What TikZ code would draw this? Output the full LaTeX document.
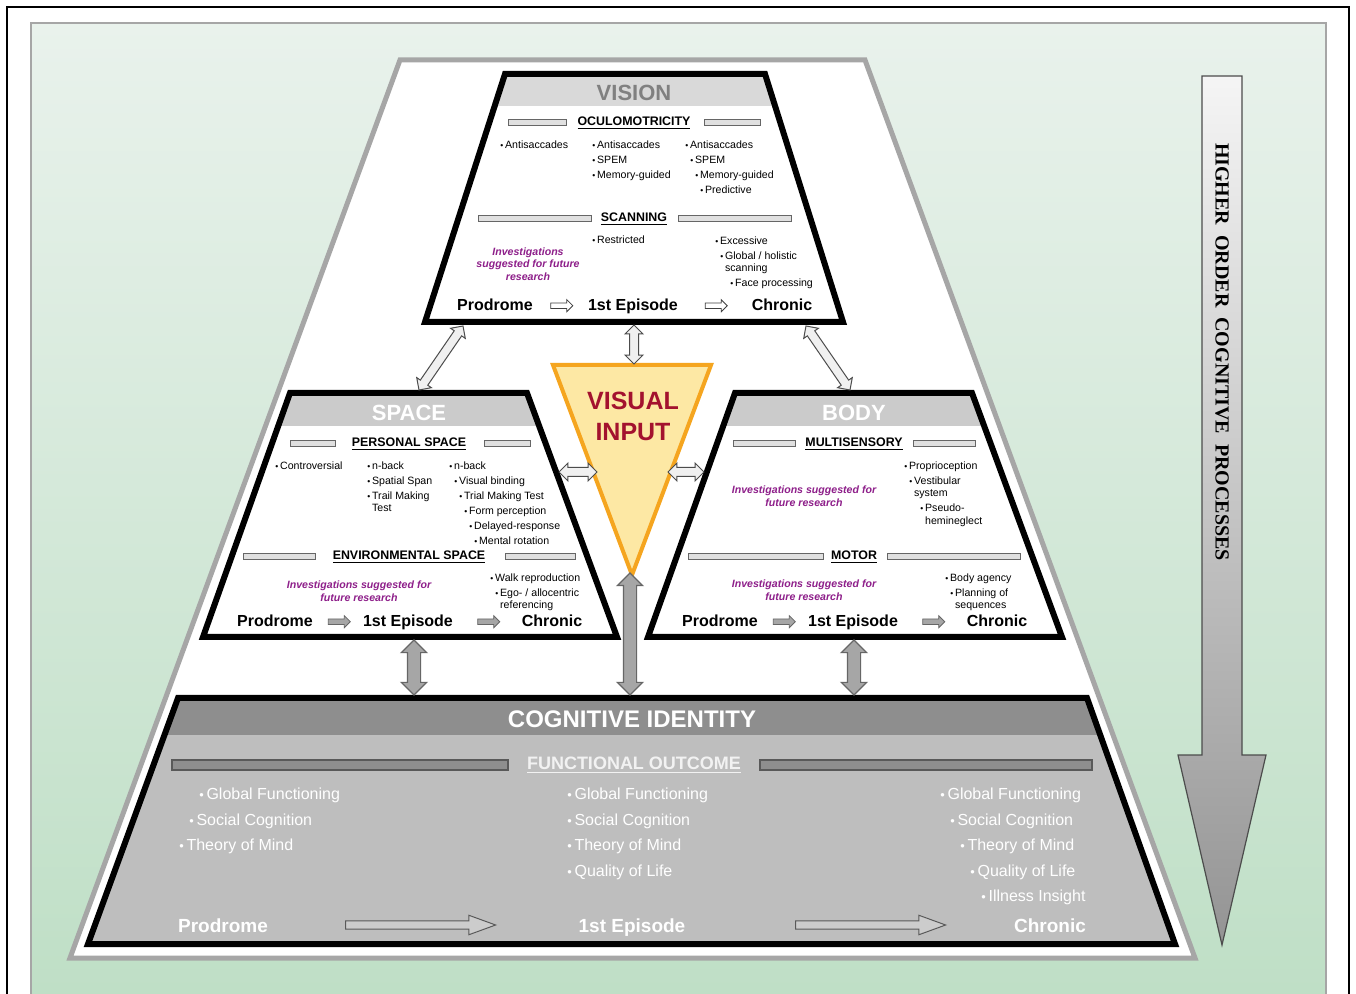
\documentclass[tikz,border=0pt]{standalone}
\usepackage{fontspec}
\usepackage{graphicx}
\setmainfont{Liberation Sans}
\newfontfamily\serifbold{Liberation Serif}
\usetikzlibrary{calc,shapes.arrows}

\definecolor{panetop}{HTML}{E9F2EC}
\definecolor{panebottom}{HTML}{BFDFC6}
\definecolor{rimgray}{HTML}{A6A6A6}
\definecolor{headlight}{HTML}{D9D9D9}
\definecolor{headmid}{HTML}{CBCBCB}
\definecolor{headdark}{HTML}{8E8E8E}
\definecolor{outcomegray}{HTML}{BEBEBE}
\definecolor{futurepurple}{HTML}{8E1F8A}
\definecolor{inputfill}{HTML}{FDE8A4}
\definecolor{inputrim}{HTML}{F5A51F}
\definecolor{inputtext}{HTML}{A3122E}

\newcommand\bu{\scalebox{.8}{\textbullet}\,}
% block arrow with two heads, laid between two coordinates
\newcommand\linkarrow[3]{%
	\path let \p1=($(#3)-(#2)$), \n1={atan2(\y1,\x1)}, \n2={veclen(\x1,\y1)} in
		node[#1, rotate=\n1, minimum height=\n2] at ($(#2)!.5!(#3)$) {};}

\begin{document}
\begin{tikzpicture}[x=0.5pt, y=-0.5pt,
		boxrim/.style={draw=black, line width=3pt, line join=miter},
		barbox/.style={draw=black!60, fill=black!12, line width=0.5pt},
		darkbar/.style={draw=black!65, fill=headdark, line width=0.6pt},
		headtitle/.style={font=\fontsize{11}{13}\selectfont\bfseries},
		sectitle/.style={font=\fontsize{6.2}{7}\selectfont\bfseries, inner sep=0pt},
		itemlist/.style={font=\fontsize{5.3}{6.3}\selectfont, align=left, anchor=north west, inner sep=0pt},
		futurenote/.style={font=\fontsize{5.3}{6.3}\selectfont\bfseries\itshape, text=futurepurple, align=center, inner sep=0pt},
		stagelabel/.style={font=\fontsize{8}{9}\selectfont\bfseries, inner sep=0pt, anchor=base},
		cogstage/.style={font=\fontsize{9.5}{11}\selectfont\bfseries, text=white, inner sep=0pt, anchor=base},
		outcomelist/.style={font=\fontsize{8}{12.75}\selectfont, text=white, align=left, anchor=north west, inner sep=0pt},
		lightlink/.style={double arrow, double arrow head extend=2.2pt, inner xsep=0pt, inner ysep=2pt, draw=black!70, fill=black!6, line width=0.5pt},
		greylink/.style={double arrow, double arrow head extend=3pt, inner xsep=0pt, inner ysep=3pt, draw=black!60, fill=black!35, line width=0.6pt},
		steparrow/.style={single arrow, single arrow head extend=1.6pt, inner xsep=0pt, inner ysep=1.2pt, minimum height=11pt, line width=0.4pt},
		longstep/.style={single arrow, single arrow head extend=2.8pt, single arrow tip angle=40, inner xsep=0pt, inner ysep=1.8pt, minimum height=75pt, draw=black!65, fill=black!20, line width=0.5pt}]
	\useasboundingbox (0,0) rectangle (1356,994);
	\fill[white] (0,0) rectangle (1356,994);
	\draw[black, line width=0.6pt] (7,994) -- (7,7) -- (1349,7) -- (1349,994);
	\shade[top color=panetop, bottom color=panebottom] (31,23) rectangle (1326,994);
	\draw[rimgray, line width=1pt] (31,994) -- (31,23) -- (1326,23) -- (1326,994);
	\draw[rimgray, fill=white, line width=2.5pt, line join=miter] (400,60) -- (865,60) -- (1195,958) -- (70,958) -- cycle;

	% vision
	\fill[white] (505,74) -- (765,74) -- (843,322) -- (425,322) -- cycle;
	\begin{scope}
		\clip (505,74) -- (765,74) -- (843,322) -- (425,322) -- cycle;
		\fill[headlight] (400,70) rectangle (870,106);
	\end{scope}
	\draw[boxrim] (505,74) -- (765,74) -- (843,322) -- (425,322) -- cycle;
	\node[headtitle, text=black!50] (vision) at (634,93) {VISION};
	\node[sectitle] (oculo) at (634,123) {\underline{OCULOMOTRICITY}};
	\draw[barbox] (508,120) rectangle (566,126);
	\draw[barbox] (704,120) rectangle (760,126);
	\node[itemlist] (oculo-pro) at (500,140) {\bu Antisaccades};
	\node[itemlist] (oculo-epi) at (592,140) {\bu Antisaccades\\[1.2pt]\bu SPEM\\[1.2pt]\bu Memory-guided};
	\node[itemlist] (oculo-chr) at (685,140) {\bu Antisaccades\\[1.2pt]\hspace*{2.5pt}\bu SPEM\\[1.2pt]\hspace*{5pt}\bu Memory-guided\\[1.2pt]\hspace*{7.5pt}\bu Predictive};
	\node[sectitle] (scan) at (634,219) {\underline{SCANNING}};
	\draw[barbox] (478,216) rectangle (591,222);
	\draw[barbox] (678,216) rectangle (791,222);
	\node[futurenote] (scan-pro) at (528,264) {Investigations\\suggested for future\\research};
	\node[itemlist] (scan-epi) at (592,235) {\bu Restricted};
	\node[itemlist] (scan-chr) at (715,236) {\bu Excessive\\[1.2pt]\hspace*{2.5pt}\bu Global / holistic\\\hspace*{2.5pt}\phantom{\bu}scanning\\[1.2pt]\hspace*{7.5pt}\bu Face processing};
	\node[stagelabel] (vis-pro) at (495,311) {Prodrome};
	\node[stagelabel] (vis-epi) at (633,311) {1st Episode};
	\node[stagelabel] (vis-chr) at (782,311) {Chronic};
	\node[steparrow, draw=black!75, fill=white] at ($(vis-pro.mid east)!.5!(vis-epi.mid west)$) {};
	\node[steparrow, draw=black!75, fill=white] at ($(vis-epi.mid east)!.5!(vis-chr.mid west)$) {};

	% space
	\fill[white] (290,393) -- (527,393) -- (617,637) -- (203,637) -- cycle;
	\begin{scope}
		\clip (290,393) -- (527,393) -- (617,637) -- (203,637) -- cycle;
		\fill[headmid] (200,390) rectangle (620,426);
	\end{scope}
	\draw[boxrim] (290,393) -- (527,393) -- (617,637) -- (203,637) -- cycle;
	\node[headtitle, text=white] (space) at (409,413) {SPACE};
	\node[sectitle] (personal) at (409,444) {\underline{PERSONAL SPACE}};
	\draw[barbox] (290,441) rectangle (335,447);
	\draw[barbox] (484,441) rectangle (530,447);
	\node[itemlist] (personal-pro) at (275,461) {\bu Controversial};
	\node[itemlist] (personal-epi) at (367,461) {\bu n-back\\[1.2pt]\bu Spatial Span\\[1.2pt]\bu Trail Making\\\phantom{\bu}Test};
	\node[itemlist] (personal-chr) at (449,461) {\bu n-back\\[1.2pt]\hspace*{2.5pt}\bu Visual binding\\[1.2pt]\hspace*{5pt}\bu Trial Making Test\\[1.2pt]\hspace*{7.5pt}\bu Form perception\\[1.2pt]\hspace*{10pt}\bu Delayed-response\\[1.2pt]\hspace*{12.5pt}\bu Mental rotation};
	\node[sectitle] (environ) at (409,557) {\underline{ENVIRONMENTAL SPACE}};
	\draw[barbox] (243,554) rectangle (315,560);
	\draw[barbox] (505,554) rectangle (575,560);
	\node[futurenote] (environ-pro) at (359,591) {Investigations suggested for\\future research};
	\node[itemlist] (environ-chr) at (490,573) {\bu Walk reproduction\\[1.2pt]\hspace*{2.5pt}\bu Ego- / allocentric\\\hspace*{2.5pt}\phantom{\bu}referencing};
	\node[stagelabel] (spc-pro) at (275,627) {Prodrome};
	\node[stagelabel] (spc-epi) at (408,627) {1st Episode};
	\node[stagelabel] (spc-chr) at (552,627) {Chronic};
	\node[steparrow, draw=black!60, fill=black!35] at ($(spc-pro.mid east)!.5!(spc-epi.mid west)$) {};
	\node[steparrow, draw=black!60, fill=black!35] at ($(spc-epi.mid east)!.5!(spc-chr.mid west)$) {};

	% body
	\fill[white] (735,393) -- (972,393) -- (1062,637) -- (648,637) -- cycle;
	\begin{scope}
		\clip (735,393) -- (972,393) -- (1062,637) -- (648,637) -- cycle;
		\fill[headmid] (640,390) rectangle (1070,426);
	\end{scope}
	\draw[boxrim] (735,393) -- (972,393) -- (1062,637) -- (648,637) -- cycle;
	\node[headtitle, text=white] (body) at (854,413) {BODY};
	\node[sectitle] (multi) at (854,444) {\underline{MULTISENSORY}};
	\draw[barbox] (733,441) rectangle (795,447);
	\draw[barbox] (913,441) rectangle (975,447);
	\node[futurenote] (multi-pro) at (804,496) {Investigations suggested for\\future research};
	\node[itemlist] (multi-chr) at (904,461) {\bu Proprioception\\[1.2pt]\hspace*{2.5pt}\bu Vestibular\\\hspace*{2.5pt}\phantom{\bu}system\\[1.2pt]\hspace*{8pt}\bu Pseudo-\\\hspace*{8pt}\phantom{\bu}hemineglect};
	\node[sectitle] (motor) at (854,557) {\underline{MOTOR}};
	\draw[barbox] (688,554) rectangle (823,560);
	\draw[barbox] (887,554) rectangle (1020,560);
	\node[futurenote] (motor-pro) at (804,590) {Investigations suggested for\\future research};
	\node[itemlist] (motor-chr) at (945,573) {\bu Body agency\\[1.2pt]\hspace*{2.5pt}\bu Planning of\\\hspace*{2.5pt}\phantom{\bu}sequences};
	\node[stagelabel] (bod-pro) at (720,627) {Prodrome};
	\node[stagelabel] (bod-epi) at (853,627) {1st Episode};
	\node[stagelabel] (bod-chr) at (997,627) {Chronic};
	\node[steparrow, draw=black!60, fill=black!35] at ($(bod-pro.mid east)!.5!(bod-epi.mid west)$) {};
	\node[steparrow, draw=black!60, fill=black!35] at ($(bod-epi.mid east)!.5!(bod-chr.mid west)$) {};

	% visual input
	\draw[fill=inputfill, draw=inputrim, line width=2pt, line join=miter] (553,365) -- (711,365) -- (632,575) -- cycle;
	\node[font=\fontsize{12.5}{15.5}\selectfont\bfseries, text=inputtext, align=center] (input) at (633,416) {VISUAL\\INPUT};

	% cognitive identity
	\fill[outcomegray] (178,698) -- (1087,698) -- (1175,944) -- (88,944) -- cycle;
	\begin{scope}
		\clip (178,698) -- (1087,698) -- (1175,944) -- (88,944) -- cycle;
		\fill[headdark] (80,690) rectangle (1180,736);
		\draw[white!75!black, line width=0.8pt] (80,736) -- (1180,736);
	\end{scope}
	\draw[boxrim] (178,698) -- (1087,698) -- (1175,944) -- (88,944) -- cycle;
	\node[font=\fontsize{12}{14}\selectfont\bfseries, text=white] (identity) at (632,719) {COGNITIVE IDENTITY};
	\node[font=\fontsize{9}{10}\selectfont\bfseries, text=white!95!black, inner sep=0pt] (outcome) at (634,765) {\underline{FUNCTIONAL OUTCOME}};
	\draw[darkbar] (172,760) rectangle (508,770);
	\draw[darkbar] (760,760) rectangle (1092,770);
	\node[outcomelist] (outcome-pro) at (179,788) {\hspace*{10pt}\bu Global Functioning\\\hspace*{5pt}\bu Social Cognition\\\bu Theory of Mind};
	\node[outcomelist] (outcome-epi) at (567,788) {\bu Global Functioning\\\bu Social Cognition\\\bu Theory of Mind\\\bu Quality of Life};
	\node[outcomelist] (outcome-chr) at (940,788) {\bu Global Functioning\\\hspace*{5pt}\bu Social Cognition\\\hspace*{10pt}\bu Theory of Mind\\\hspace*{15pt}\bu Quality of Life\\\hspace*{20.5pt}\bu Illness Insight};
	\node[cogstage] (cog-pro) at (223,932) {Prodrome};
	\node[cogstage] (cog-epi) at (632,932) {1st Episode};
	\node[cogstage] (cog-chr) at (1050,932) {Chronic};
	\node[longstep] at (415,925) {};
	\node[longstep] at (865,925) {};

	% links between the boxes
	\coordinate (vision-sw) at (463,326);
	\coordinate (space-n) at (419,390);
	\coordinate (vision-s) at (634,325);
	\coordinate (input-n) at (634,364);
	\coordinate (vision-se) at (806,326);
	\coordinate (body-n) at (850,390);
	\coordinate (space-e) at (559,472);
	\coordinate (input-w) at (597,472);
	\coordinate (input-e) at (668,472);
	\coordinate (body-w) at (704,472);
	\coordinate (space-s) at (414,640);
	\coordinate (identity-l) at (414,695);
	\coordinate (input-s) at (630,573);
	\coordinate (identity-c) at (630,695);
	\coordinate (body-s) at (854,640);
	\coordinate (identity-r) at (854,695);
	\linkarrow{lightlink}{vision-sw}{space-n}
	\linkarrow{lightlink}{vision-s}{input-n}
	\linkarrow{lightlink}{vision-se}{body-n}
	\linkarrow{lightlink}{space-e}{input-w}
	\linkarrow{lightlink}{input-e}{body-w}
	\linkarrow{greylink}{space-s}{identity-l}
	\linkarrow{greylink}{input-s}{identity-c}
	\linkarrow{greylink}{body-s}{identity-r}

	% higher order arrow
	\shade[top color=black!4, bottom color=black!42, draw=black!70, line width=0.6pt, line join=miter]
		(1202,76) -- (1242,76) -- (1242,755) -- (1266,755) -- (1222,945) -- (1178,755) -- (1202,755) -- cycle;
	\node[rotate=-90, font=\serifbold\fontsize{10}{12}\selectfont\bfseries] (higher) at (1222,352) {HIGHER\ \ ORDER\ \ COGNITIVE\ \ PROCESSES};
\end{tikzpicture}
\end{document}
